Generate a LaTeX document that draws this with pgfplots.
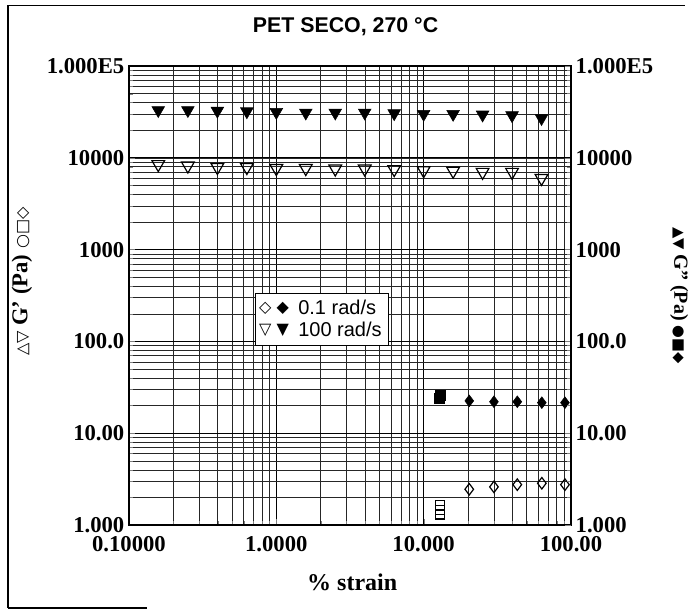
\documentclass[border=0pt]{standalone}
\usepackage{fontspec}
\setmainfont{Liberation Serif}
\newfontfamily\arial{Liberation Sans}
\newfontfamily\dejavu{DejaVu Sans}
\usepackage{pgfplots}
\pgfplotsset{compat=1.18}

\pgfplotstableread{
x      y
0.158  33000
0.251  33000
0.398  32500
0.631  32000
1.000  31500
1.585  31000
2.512  31000
3.981  31000
6.310  30500
10.00  30000
15.85  30000
25.12  29500
39.81  29000
63.10  27000
}\gppfast
\pgfplotstableread{
x      y
0.158  8500
0.251  8200
0.398  7900
0.631  7900
1.000  7700
1.585  7700
2.512  7600
3.981  7600
6.310  7500
10.00  7300
15.85  7200
25.12  7000
39.81  7000
63.10  6000
}\gpfast
\pgfplotstableread{
x      y
20.4   22.5
30.0   22.0
43.2   22.0
63.4   21.5
91.0   21.5
}\gppslow
\pgfplotstableread{
x      y
20.4   2.45
30.0   2.60
43.2   2.75
63.4   2.85
91.0   2.75
}\gpslow
\pgfplotstableread{
x      y
12.8   24.0
12.9   25.5
13.0   26.0
}\gppsq
\pgfplotstableread{
x      y
12.9   1.30
12.9   1.46
12.9   1.65
}\gpsq

\begin{document}
\begin{tikzpicture}
\path[use as bounding box] (0,0) rectangle (517.5pt,459pt);
\draw[line width=1.1pt] (6pt,3pt) -- (6pt,455pt) -- (514pt,455pt);
\draw[line width=1.1pt] (6pt,3pt) -- (110pt,3pt);

\begin{axis}[
  at={(96.75pt,65.25pt)}, anchor=south west,
  scale only axis, width=331.5pt, height=344.25pt,
  xmode=log, ymode=log,
  xmin=0.1, xmax=100, ymin=1, ymax=100000,
  xtick={0.1,1,10,100},
  xticklabels={0.10000,1.0000,10.000,100.00},
  ytick={1,10,100,1000,10000,100000},
  yticklabels={1.000,10.00,100.0,1000,10000,1.000E5},
  ytick pos=left, xtick pos=bottom,
  tick label style={font=\fontsize{17}{17}\selectfont\bfseries},
  xticklabel style={yshift=-5pt},
  grid=both,
  major grid style={black, line width=0.6pt},
  minor grid style={black!85, line width=0.35pt},
  axis line style={black, line width=0.8pt},
  xlabel={\textbf{\% strain}},
  xlabel style={font=\fontsize{18}{18}\selectfont, at={(axis description cs:0.505,-0.124)}, anchor=center},
  ylabel={{\dejavu\fontsize{12}{12}\selectfont △▽} \textbf{G' (Pa)} {\dejavu\fontsize{12}{12}\selectfont ○□◇}},
  ylabel style={font=\fontsize{17}{17}\selectfont, at={(axis description cs:-0.242,0.53)}, anchor=center},
  title={\arial\bfseries PET SECO, 270 °C},
  title style={font=\fontsize{16}{16}\selectfont, at={(axis description cs:0.49,1.094)}, anchor=center, yshift=-9pt},
  legend style={at={(axis description cs:0.285,0.505)}, anchor=north west, draw=black, fill=white,
    font=\fontsize{15}{19}\selectfont\arial, inner sep=3pt, cells={anchor=west}},
]
\addplot[only marks, mark=triangle*, mark size=5.5pt, mark options={rotate=180, fill=black, draw=black}, forget plot] table[x=x,y=y] {\gppfast};
\addplot[only marks, mark=triangle, mark size=5.5pt, mark options={rotate=180, draw=black, line width=0.9pt}, forget plot] table[x=x,y=y] {\gpfast};
\addplot[only marks, mark=diamond*, mark size=4.4pt, mark options={fill=black, draw=black}, forget plot] table[x=x,y=y] {\gppslow};
\addplot[only marks, mark=diamond, mark size=4.3pt, mark options={draw=black, line width=0.9pt}, forget plot] table[x=x,y=y] {\gpslow};
\addplot[only marks, mark=square*, mark size=3.6pt, mark options={fill=black, draw=black}, forget plot] table[x=x,y=y] {\gppsq};
\addplot[only marks, mark=square, mark size=3.4pt, mark options={draw=black, line width=0.9pt}, forget plot] table[x=x,y=y] {\gpsq};
\addlegendimage{legend image code/.code={\node[inner sep=0pt, anchor=west, font=\dejavu\fontsize{12}{12}\selectfont] at (0pt,0pt) {◇ ◆\rule{5pt}{0pt}};}}
\addlegendentry{0.1 rad/s}
\addlegendimage{legend image code/.code={\node[inner sep=0pt, anchor=west, font=\dejavu\fontsize{12}{12}\selectfont] at (0pt,0pt) {▽ ▼\rule{5pt}{0pt}};}}
\addlegendentry{100 rad/s}
\end{axis}

\begin{axis}[
  at={(96.75pt,65.25pt)}, anchor=south west,
  scale only axis, width=331.5pt, height=344.25pt,
  xmode=log, ymode=log,
  xmin=0.1, xmax=100, ymin=1, ymax=100000,
  axis x line=none, axis y line*=right,
  ytick={1,10,100,1000,10000,100000},
  yticklabels={1.000,10.00,100.0,1000,10000,1.000E5},
  tick label style={font=\fontsize{17}{17}\selectfont\bfseries},
  axis line style={black, line width=0.8pt},
  ylabel={{\dejavu\fontsize{11}{11}\selectfont ▲▼} \textbf{G'' (Pa)} {\dejavu\fontsize{11}{11}\selectfont ●■◆}},
  ylabel style={font=\fontsize{15}{15}\selectfont, at={(axis description cs:1.245,0.5)}, anchor=center, rotate=180},
]
\addplot[draw=none, forget plot] coordinates {(1,1)};
\end{axis}
\end{tikzpicture}
\end{document}
